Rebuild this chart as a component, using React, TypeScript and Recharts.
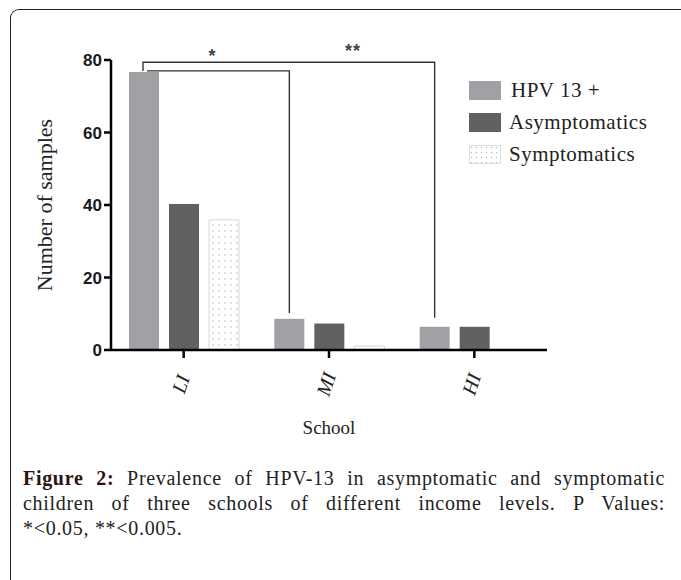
import React from "react";
import { BarChart, Bar, XAxis, YAxis, LabelList } from "recharts";

const schools = ["LI", "MI", "HI"];
const hpv13 = [76.7, 8.6, 6.4];
const asymptomatics = [40.3, 7.3, 6.4];
const symptomatics = [35.9, 1.1, 0];
const yTicks = [0, 20, 40, 60, 80];
const seriesNames = ["HPV 13 +", "Asymptomatics", "Symptomatics"];
const seriesColors = ["#a1a1a5", "#616161", "url(#dots)"];
// significance brackets: from LI bar to another school, level and drop in data units
const brackets = [
  { from: 0, to: 1, level: 77, drop: 10.2, mark: "*", markAt: 0.46, dx: 3, lift: 9 },
  { from: 0, to: 2, level: 79.4, drop: 8.9, mark: "**", markAt: 0.72, dx: -1, lift: 5 },
];

const data = schools.map((school, i) => ({
  school,
  hpv: hpv13[i],
  asym: asymptomatics[i],
  sym: symptomatics[i],
}));

const serif = "'Liberation Serif', 'Times New Roman', serif";
const sans = "'Liberation Sans', Arial, sans-serif";

const barPos: Record<number, { cx: number; base: number; ppu: number }> = {};

function BracketLayer(props: any) {
  const vb = props.viewBox || props;
  const { x, y, width, height } = vb;
  const index = props.index;
  const value = Number(props.value);
  barPos[index] = { cx: x + width / 2, base: y + height, ppu: height / value };
  if (index !== schools.length - 1) return null;
  const ref = barPos[0];
  const toY = (v: number) => ref.base - v * ref.ppu;
  return (
    <g>
      {brackets.map((b, k) => {
        const x1 = barPos[b.from].cx + b.dx;
        const x2 = barPos[b.to].cx;
        const yl = toY(b.level);
        const leftDrop = k === 0 ? yl : toY(brackets[0].level);
        return (
          <g key={k}>
            <path
              d={`M${x1},${leftDrop} L${x1},${yl} L${x2},${yl} L${x2},${toY(b.drop)}`}
              fill="none"
              stroke="#333"
              strokeWidth={1.4}
            />
            <text
              x={x1 + (x2 - x1) * b.markAt}
              y={yl - b.lift}
              textAnchor="middle"
              fontFamily={sans}
              fontWeight="bold"
              fontSize={18}
              fill="#444"
              letterSpacing={1}
            >
              {b.mark}
            </text>
          </g>
        );
      })}
    </g>
  );
}

function XTick(props: any) {
  const { x, y, payload } = props;
  return (
    <text
      transform={`translate(${x - 3},${y + 24}) rotate(-72)`}
      textAnchor="middle"
      dy="0.35em"
      fontFamily={serif}
      fontStyle="italic"
      fontSize={20}
      fill="#222"
    >
      {payload.value}
    </text>
  );
}

function YTitle(props: any) {
  const vb = props.viewBox;
  return (
    <text
      transform={`translate(${vb.x + 1},${vb.y + vb.height / 2}) rotate(-90)`}
      textAnchor="middle"
      fontFamily={serif}
      fontSize={22}
      fill="#222"
    >
      Number of samples
    </text>
  );
}

function XTitle(props: any) {
  const vb = props.viewBox;
  return (
    <text
      x={vb.x + vb.width / 2}
      y={vb.y + 84}
      textAnchor="middle"
      fontFamily={serif}
      fontSize={19}
      fill="#222"
    >
      School
    </text>
  );
}

function Swatch({ i }: { i: number }) {
  return (
    <svg width={32} height={19} style={{ display: "block" }}>
      <defs>
        <pattern id="dotsLegend" width="5" height="5" patternUnits="userSpaceOnUse">
          <rect width="5" height="5" fill="#fff" />
          <circle cx="2.5" cy="2.5" r="0.7" fill="#b5b5b5" />
        </pattern>
      </defs>
      <rect
        x={0.5}
        y={0.5}
        width={31}
        height={18}
        fill={i === 2 ? "url(#dotsLegend)" : seriesColors[i]}
        stroke={i === 2 ? "#ddd" : seriesColors[i]}
      />
    </svg>
  );
}

export default function App() {
  return (
    <div
      style={{
        position: "absolute",
        left: 0,
        top: 0,
        width: 681,
        height: 580,
        background: "#fff",
        overflow: "hidden",
      }}
    >
      <div
        style={{
          position: "absolute",
          left: 10,
          top: 9,
          width: 720,
          height: 620,
          borderTop: "1.5px solid #222",
          borderLeft: "1.5px solid #222",
          borderTopLeftRadius: 9,
        }}
      />
      <div style={{ position: "absolute", left: 0, top: 0 }}>
        <BarChart
          width={681}
          height={460}
          data={data}
          margin={{ top: 60, right: 134, bottom: 50, left: 51 }}
          barSize={30}
          barGap={10}
        >
          <defs>
            <pattern id="dots" width="6" height="6" patternUnits="userSpaceOnUse">
              <rect width="6" height="6" fill="#fff" />
              <circle cx="3" cy="3" r="0.8" fill="#b8b8b8" />
            </pattern>
          </defs>
          <XAxis
            dataKey="school"
            height={60}
            tickSize={8}
            axisLine={{ stroke: "#000", strokeWidth: 2.5 }}
            tickLine={{ stroke: "#000", strokeWidth: 2.5 }}
            tick={<XTick />}
            label={<XTitle />}
          />
          <YAxis
            width={60}
            domain={[0, 80]}
            ticks={yTicks}
            tickSize={7}
            tickMargin={2}
            axisLine={{ stroke: "#000", strokeWidth: 2.5 }}
            tickLine={{ stroke: "#000", strokeWidth: 2.5 }}
            tick={{ fontFamily: sans, fontWeight: "bold", fontSize: 17, fill: "#1a1a1a" }}
            label={<YTitle />}
          />
          <Bar dataKey="hpv" name={seriesNames[0]} fill={seriesColors[0]} isAnimationActive={false}>
            <LabelList dataKey="hpv" content={<BracketLayer />} />
          </Bar>
          <Bar dataKey="asym" name={seriesNames[1]} fill={seriesColors[1]} isAnimationActive={false} />
          <Bar
            dataKey="sym"
            name={seriesNames[2]}
            fill={seriesColors[2]}
            stroke="#d6d6d6"
            strokeWidth={1}
            isAnimationActive={false}
          />
        </BarChart>
      </div>
      <div style={{ position: "absolute", left: 469, top: 74 }}>
        {seriesNames.map((name, i) => (
          <div key={name} style={{ display: "flex", alignItems: "center", height: 32 }}>
            <Swatch i={i} />
            <span
              style={{
                fontFamily: serif,
                fontSize: 21,
                letterSpacing: 0.5,
                color: "#222",
                marginLeft: i === 0 ? 10 : 8,
                lineHeight: "21px",
              }}
            >
              {name}
            </span>
          </div>
        ))}
      </div>
      <div
        style={{
          position: "absolute",
          left: 23,
          top: 466,
          width: 642,
          fontFamily: serif,
          fontSize: 20,
          letterSpacing: 0.7,
          lineHeight: "25px",
          color: "#222",
        }}
      >
        <div style={{ textAlign: "justify", textAlignLast: "justify" }}>
          <b style={{ color: "#2a1510" }}>Figure 2:</b> Prevalence of HPV-13 in asymptomatic and symptomatic
        </div>
        <div style={{ textAlign: "justify", textAlignLast: "justify" }}>
          children of three schools of different income levels. P Values:
        </div>
        <div>*&lt;0.05, **&lt;0.005.</div>
      </div>
    </div>
  );
}
